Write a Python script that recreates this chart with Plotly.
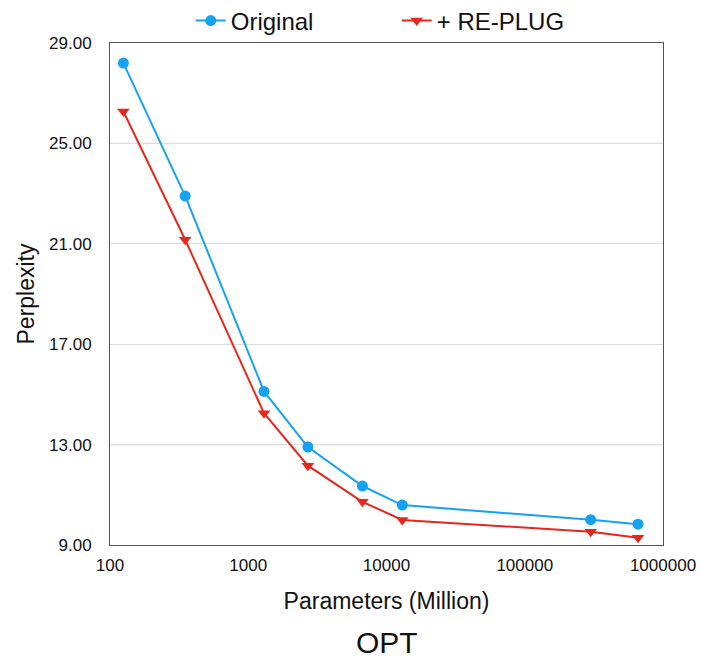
import plotly.graph_objects as go

params = [125, 350, 1300, 2700, 6700, 13000, 300000, 660000]
original = [28.2, 22.9, 15.12, 12.9, 11.35, 10.59, 10.01, 9.83]
replug = [26.27, 21.16, 14.25, 12.16, 10.72, 10.0, 9.53, 9.29]

y_ticks = [9, 13, 17, 21, 25, 29]
y_ticktext = ["9.00", "13.00", "17.00", "21.00", "25.00", "29.00"]
x_ticks = [100, 1000, 10000, 100000, 1000000]
x_ticktext = ["100", "1000", "10000", "100000", "1000000"]

BLUE = "#16a2f2"
RED = "#e5281b"
FONT = "Liberation Sans, Arial, Helvetica, sans-serif"
INK = "#111111"

fig = go.Figure()
fig.add_trace(go.Scatter(
    x=params, y=original, mode="lines+markers", name="Original",
    line=dict(color=BLUE, width=2),
    marker=dict(symbol="circle", size=11, color=BLUE),
))
fig.add_trace(go.Scatter(
    x=params, y=replug, mode="lines+markers", name="+ RE-PLUG",
    line=dict(color=RED, width=2),
    marker=dict(symbol="triangle-down", size=11, color=RED),
))

for gv in [13, 25]:
    fig.add_shape(type="line", xref="paper", x0=0, x1=1, yref="y", y0=gv, y1=gv,
                  line=dict(color="#a8a8a8", width=1), layer="below")

fig.update_layout(
    width=701, height=660,
    margin=dict(l=110, r=38, t=43, b=115, autoexpand=False),
    paper_bgcolor="white", plot_bgcolor="white",
    font=dict(family=FONT, color=INK),
    showlegend=True,
    legend=dict(
        orientation="h", x=0.146, xanchor="left",
        yref="container", y=1 - 21 / 660, yanchor="middle",
        font=dict(size=24, family=FONT, color=INK), entrywidth=161, entrywidthmode="pixels",
        bgcolor="rgba(0,0,0,0)",
    ),
    xaxis=dict(
        type="log", range=[2, 6], tickvals=x_ticks, ticktext=x_ticktext,
        showgrid=False, zeroline=False,
        showline=True, linecolor="#555555", linewidth=1, mirror=True,
        ticks="outside", ticklen=5, tickcolor="rgba(0,0,0,0)",
        tickfont=dict(size=17, family=FONT, color=INK),
        title=dict(text="Parameters (Million)", font=dict(size=23, family=FONT, color=INK), standoff=18),
    ),
    yaxis=dict(
        range=[9, 29], tickvals=y_ticks, ticktext=y_ticktext,
        showgrid=True, gridcolor="#dedede", gridwidth=1, zeroline=False,
        showline=True, linecolor="#555555", linewidth=1, mirror=True,
        ticks="outside", ticklen=14, tickcolor="rgba(0,0,0,0)",
        tickfont=dict(size=17, family=FONT, color=INK),
        title=dict(text="Perplexity", font=dict(size=23, family=FONT, color=INK), standoff=8),
    ),
    annotations=[dict(
        text="OPT", xref="paper", yref="paper", x=0.5, y=0, xanchor="center", yanchor="middle",
        yshift=-97, showarrow=False, font=dict(size=30, family=FONT, color=INK),
    )],
)

fig.write_html("out.html")
